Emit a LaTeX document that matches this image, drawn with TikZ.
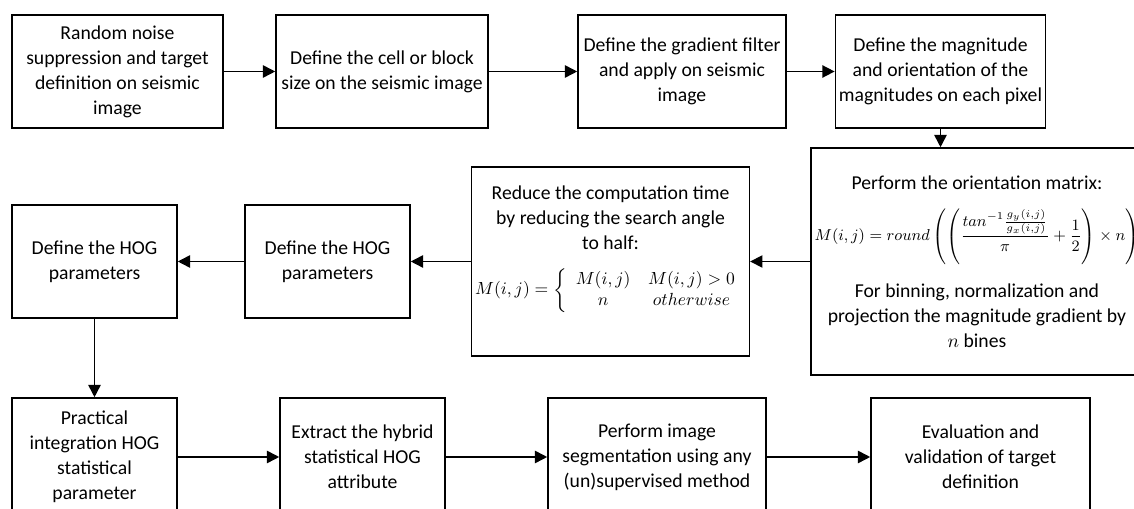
\documentclass[tikz,border=0pt]{standalone}
\usepackage{amsmath, amssymb}
\usepackage{fontspec}
\setmainfont{Carlito}
\usepackage{tikz}
\usetikzlibrary{arrows.meta, positioning, calc}

\begin{document}
\begin{tikzpicture}[
    x=0.02cm, y=-0.02cm,
    font=\fontsize{11.2}{14.2}\selectfont,
    >={Triangle[length=7pt, width=7pt]},
    box/.style={rectangle, draw=black, line width=0.9pt, fill=white, inner sep=2pt, align=center, minimum height=2.26cm},
    link/.style={->, line width=0.9pt},
]
\useasboundingbox (0,0) rectangle (1134,509);
\clip (0,0) rectangle (1134,509);

% Top row
\node[box, minimum width=4.22cm] (noise) at (117.5,71.5) {Random noise\\suppression and target\\definition on seismic\\image};
\node[box, minimum width=4.24cm] (cell) at (382,71.5) {Define the cell or block\\size on the seismic image};
\node[box, minimum width=4.16cm] (filter) at (682,71.5) {Define the gradient filter\\and apply on seismic\\image};
\node[box, minimum width=4.14cm] (magn) at (940.5,71.5) {Define the magnitude\\and orientation of the\\magnitudes on each pixel};

% Middle row
\node[box, minimum width=6.6cm, minimum height=4.54cm] (orient) at (977,261.5) {Perform the orientation matrix:\\[10pt]
{\fontsize{8.8}{11}\selectfont$\displaystyle M(i,j)=round\left(\left(\frac{tan^{-1}\frac{g_y(i,j)}{g_x(i,j)}}{\pi}+\frac{1}{2}\right)\times n\right)$}\\[10pt]
For binning, normalization and\\projection the magnitude gradient by\\$n$ bines};
\node[box, minimum width=5.3cm, minimum height=3.78cm] (reduce) at (610.5,261.5) {Reduce the computation time\\by reducing the search angle\\to half:\\[10pt]
{\fontsize{10.4}{12}\selectfont$M(i,j)=\left\{\begin{array}{cc}M(i,j) & M(i,j)>0\\ n & otherwise\end{array}\right.$}\\[10pt]};
\node[box, minimum width=3.3cm] (hogb) at (327.5,261.5) {Define the HOG\\parameters};
\node[box, minimum width=3.3cm] (hoga) at (94.5,261.5) {Define the HOG\\parameters};

% Bottom row
\node[box, minimum width=3.3cm, minimum height=2.36cm] (integ) at (94.5,457) {Practical\\integration HOG\\statistical\\parameter};
\node[box, minimum width=3.3cm, minimum height=2.36cm] (hybrid) at (362.5,457) {Extract the hybrid\\statistical HOG\\attribute};
\node[box, minimum width=4.36cm, minimum height=2.36cm] (segm) at (657,457) {Perform image\\segmentation using any\\(un)supervised method};
\node[box, minimum width=4.38cm, minimum height=2.36cm] (valid) at (980.5,457) {Evaluation and\\validation of target\\definition};

% Edges
\draw[link] (noise) -- (cell);
\draw[link] (cell) -- (filter);
\draw[link] (filter) -- (magn);
\draw[link] (magn) -- (magn |- orient.north);
\draw[link] (orient) -- (reduce);
\draw[link] (reduce) -- (hogb);
\draw[link] (hogb) -- (hoga);
\draw[link] (hoga) -- (integ);
\draw[link] (integ) -- (hybrid);
\draw[link] (hybrid) -- (segm);
\draw[link] (segm) -- (valid);

\end{tikzpicture}
\end{document}
